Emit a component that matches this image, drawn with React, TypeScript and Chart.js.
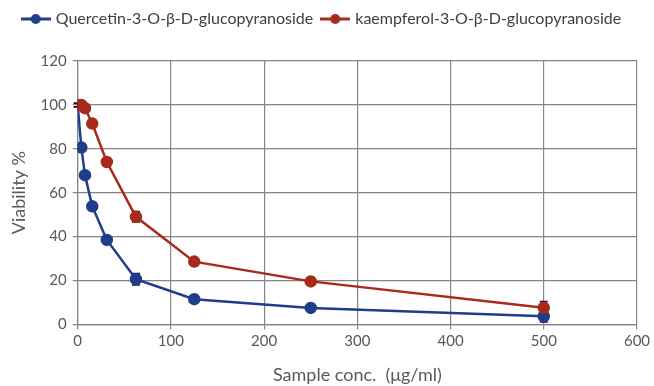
import React, { useEffect, useRef } from "react";
import { Chart, registerables } from "chart.js";
Chart.register(...registerables);

const concentrations = [0, 3.9, 7.8, 15.6, 31.25, 62.5, 125, 250, 500];
const quercetin = [100, 80.6, 68, 53.8, 38.5, 20.6, 11.5, 7.5, 3.7];
const quercetinErr = [0.8, 1, 1, 1, 1.2, 2.6, 1, 0.8, 2.6];
const kaempferol = [100, 100, 98.5, 91.5, 74, 49, 28.6, 19.6, 7.6];
const kaempferolErr = [0.8, 0.8, 1, 1, 1.5, 2.4, 1, 0.8, 2.8];
const xTicks = [0, 100, 200, 300, 400, 500, 600];
const seriesNames = ["Quercetin-3-O-β-D-glucopyranoside", "kaempferol-3-O-β-D-glucopyranoside"];
const BLUE = "#1f3d8a";
const RED = "#a82a1a";
const FONT = "Lato";

function legendIcon(color: string) {
  const c = document.createElement("canvas");
  c.width = 30;
  c.height = 12;
  const ctx = c.getContext("2d")!;
  ctx.strokeStyle = color;
  ctx.lineWidth = 3;
  ctx.beginPath();
  ctx.moveTo(0, 6);
  ctx.lineTo(30, 6);
  ctx.stroke();
  ctx.fillStyle = color;
  ctx.beginPath();
  ctx.arc(15, 6, 5, 0, Math.PI * 2);
  ctx.fill();
  return c;
}

const errorBars = {
  id: "errorBars",
  beforeDatasetsDraw(chart: any) {
    const ctx = chart.ctx;
    const xs = chart.scales.x;
    const ys = chart.scales.y;
    const errs = [quercetinErr, kaempferolErr];
    const vals = [quercetin, kaempferol];
    ctx.save();
    ctx.strokeStyle = "#111";
    ctx.lineWidth = 1.5;
    vals.forEach((arr, si) => {
      arr.forEach((v, i) => {
        const px = xs.getPixelForValue(concentrations[i]);
        const top = ys.getPixelForValue(v + errs[si][i]);
        const bot = ys.getPixelForValue(v - errs[si][i]);
        ctx.beginPath();
        ctx.moveTo(px, top);
        ctx.lineTo(px, bot);
        ctx.moveTo(px - 4, top);
        ctx.lineTo(px + 4, top);
        ctx.moveTo(px - 4, bot);
        ctx.lineTo(px + 4, bot);
        ctx.stroke();
      });
    });
    ctx.restore();
  },
};

const legendGap = {
  id: "legendGap",
  beforeInit(chart: any) {
    const legend = chart.legend;
    if (!legend) return;
    const fit = legend.fit;
    legend.fit = function () {
      fit.call(this);
      this.height += 24;
    };
  },
};

export default function App() {
  const ref = useRef<HTMLCanvasElement>(null);
  useEffect(() => {
    document.body.style.margin = "0";
    const icons = [legendIcon(BLUE), legendIcon(RED)];
    const chart = new Chart(ref.current!, {
      type: "scatter",
      data: {
        datasets: [
          {
            label: seriesNames[0],
            data: concentrations.map((x, i) => ({ x, y: quercetin[i] })),
            borderColor: BLUE,
            backgroundColor: BLUE,
            showLine: true,
            borderWidth: 2.5,
            pointRadius: 5,
            pointHoverRadius: 5,
            order: 1,
          },
          {
            label: seriesNames[1],
            data: concentrations.map((x, i) => ({ x, y: kaempferol[i] })),
            borderColor: RED,
            backgroundColor: RED,
            showLine: true,
            borderWidth: 2.5,
            pointRadius: 5,
            pointHoverRadius: 5,
            order: 0,
          },
        ],
      },
      options: {
        animation: false,
        responsive: false,
        layout: { padding: { left: 8, right: 17, top: 1, bottom: 0 } },
        plugins: {
          tooltip: { enabled: false },
          legend: {
            position: "top",
            labels: {
              usePointStyle: true,
              pointStyleWidth: 24,
              color: "#404040",
              font: { family: FONT, size: 16 },
              padding: 10,
              generateLabels: (c: any) =>
                [0, 1].map((i: number) => ({
                  text: seriesNames[i],
                  pointStyle: icons[i],
                  fillStyle: c.data.datasets[i].borderColor,
                  strokeStyle: c.data.datasets[i].borderColor,
                  lineWidth: 0,
                  hidden: false,
                  datasetIndex: i,
                  fontColor: "#404040",
                })),
            },
          },
        },
        scales: {
          x: {
            type: "linear",
            min: 0,
            max: 600,
            afterBuildTicks: (s: any) => {
              s.ticks = xTicks.map((v) => ({ value: v }));
            },
            grid: { color: "#858585", lineWidth: 1.2, drawTicks: true, tickLength: 5 },
            border: { color: "#858585", width: 1.2 },
            ticks: { color: "#595959", font: { family: FONT, size: 15 }, maxRotation: 0, padding: 3 },
            title: {
              display: true,
              text: "Sample conc.  (μg/ml)",
              color: "#595959",
              font: { family: FONT, size: 18 },
              padding: { top: 11, bottom: 0 },
            },
          },
          y: {
            min: 0,
            max: 120,
            ticks: { stepSize: 20, color: "#595959", font: { family: FONT, size: 15 }, padding: 6 },
            grid: { color: "#858585", lineWidth: 1.2, tickLength: 5 },
            border: { color: "#858585", width: 1.2 },
            title: {
              display: true,
              text: "Viability %",
              color: "#595959",
              font: { family: FONT, size: 18 },
              padding: { top: 0, bottom: 5 },
            },
          },
        },
      },
      plugins: [errorBars, legendGap],
    });
    return () => chart.destroy();
  }, []);
  return (
    <div style={{ width: 654, height: 386 }}>
      <canvas ref={ref} width={654} height={386} />
    </div>
  );
}
